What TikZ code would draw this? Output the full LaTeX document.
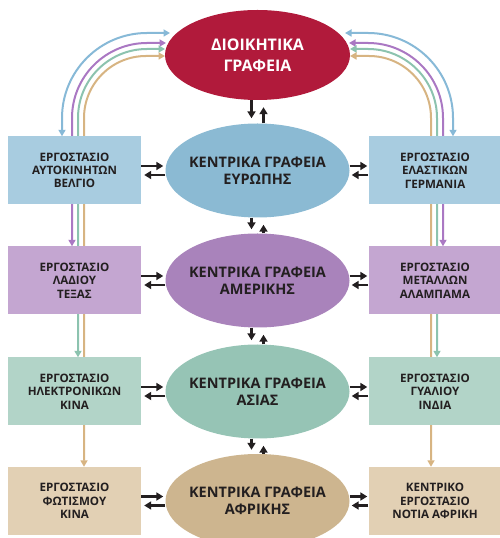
\documentclass[tikz,border=0pt]{standalone}
\usepackage{fontspec}
\setmainfont{Open Sans}
\usetikzlibrary{shapes.geometric,arrows.meta}
\pgfdeclarelayer{background}
\pgfsetlayers{background,main}
\definecolor{hqred}{HTML}{B11A3B}
\definecolor{txt}{HTML}{231F20}
\definecolor{euell}{HTML}{8BBAD3} \definecolor{eubox}{HTML}{A8CCE0}
\definecolor{amell}{HTML}{A983BB} \definecolor{ambox}{HTML}{C4A6D1}
\definecolor{asell}{HTML}{96C4B5} \definecolor{asbox}{HTML}{B2D4C8}
\definecolor{afell}{HTML}{CDB58F} \definecolor{afbox}{HTML}{E2D0B4}
\definecolor{lnblue}{HTML}{87B9D7} \definecolor{lnpurple}{HTML}{AA78C3}
\definecolor{lnteal}{HTML}{8CC3AF} \definecolor{lntan}{HTML}{D7B482}
\tikzset{
  office/.style={ellipse, minimum width=184pt, minimum height=94pt, inner ysep=0pt, inner xsep=-30pt,
    align=center, text=txt, font=\fontsize{14.5}{16.7}\selectfont\bfseries},
  plant/.style={rectangle, minimum width=133pt, minimum height=68pt, inner sep=0pt,
    align=center, text=txt, font=\fontsize{11.6}{13.3}\selectfont\bfseries},
  blk/.style={draw=txt, line width=2.2pt, -{Triangle[length=7pt,width=8pt]}},
  link/.style={line width=2pt, {Triangle[length=6.5pt,width=7pt]}-{Triangle[length=6.5pt,width=7pt]}}
}
\begin{document}
\begin{tikzpicture}[x=1pt,y=1pt]
  \useasboundingbox (0,0) rectangle (499,538);
  % offices
  \node[office, fill=hqred, text=white, minimum width=185pt, minimum height=90pt,
    font=\fontsize{16}{21}\selectfont\bfseries] (hq) at (257.5,483) {ΔΙΟΙΚΗΤΙΚΑ\\ΓΡΑΦΕΙΑ};
  \node[office, fill=euell] (eu) at (257.5,367.5) {ΚΕΝΤΡΙΚΑ ΓΡΑΦΕΙΑ\\ΕΥΡΩΠΗΣ};
  \node[office, fill=amell] (am) at (257.5,257.5) {ΚΕΝΤΡΙΚΑ ΓΡΑΦΕΙΑ\\ΑΜΕΡΙΚΗΣ};
  \node[office, fill=asell] (as) at (257.5,146.5) {ΚΕΝΤΡΙΚΑ ΓΡΑΦΕΙΑ\\ΑΣΙΑΣ};
  \node[office, fill=afell] (af) at (257.5,37) {ΚΕΝΤΡΙΚΑ ΓΡΑΦΕΙΑ\\ΑΦΡΙΚΗΣ};
  % factories
  \node[plant, fill=eubox] (eul) at (74.5,367.5) {ΕΡΓΟΣΤΑΣΙΟ\\ΑΥΤΟΚΙΝΗΤΩΝ\\ΒΕΛΓΙΟ};
  \node[plant, fill=eubox] (eur) at (435,367.5) {ΕΡΓΟΣΤΑΣΙΟ\\ΕΛΑΣΤΙΚΩΝ\\ΓΕΡΜΑΝΙΑ};
  \node[plant, fill=ambox] (aml) at (74.5,257.5) {ΕΡΓΟΣΤΑΣΙΟ\\ΛΑΔΙΟΥ\\ΤΕΞΑΣ};
  \node[plant, fill=ambox] (amr) at (435,257.5) {ΕΡΓΟΣΤΑΣΙΟ\\ΜΕΤΑΛΛΩΝ\\ΑΛΑΜΠΑΜΑ};
  \node[plant, fill=asbox] (asl) at (74.5,146.5) {ΕΡΓΟΣΤΑΣΙΟ\\ΗΛΕΚΤΡΟΝΙΚΩΝ\\ΚΙΝΑ};
  \node[plant, fill=asbox] (asr) at (435,146.5) {ΕΡΓΟΣΤΑΣΙΟ\\ΓΥΑΛΙΟΥ\\ΙΝΔΙΑ};
  \node[plant, fill=afbox] (afl) at (74.5,37) {ΕΡΓΟΣΤΑΣΙΟ\\ΦΩΤΙΣΜΟΥ\\ΚΙΝΑ};
  \node[plant, fill=afbox] (afr) at (435,37) {ΚΕΝΤΡΙΚΟ\\ΕΡΓΟΣΤΑΣΙΟ\\ΝΟΤΙΑ ΑΦΡΙΚΗ};
  % tips of the coloured links at the head office
  \coordinate (hqb1) at (170,505); \coordinate (hqb2) at (345,505);
  \coordinate (hqp1) at (166,495); \coordinate (hqp2) at (349,495);
  \coordinate (hqt1) at (165,489); \coordinate (hqt2) at (350,489);
  \coordinate (hqn1) at (165,482); \coordinate (hqn2) at (350,482);
  % coloured links, behind the factories
  \begin{pgfonlayer}{background}
    \draw[link, lnblue] ([xshift=-12.5pt]eul.north) -- (62,420) arc[start angle=180, end angle=90, radius=85] -- (hqb1);
    \draw[link, lnpurple] ([xshift=-2.5pt]aml.north) -- (72,420) arc[start angle=180, end angle=90, radius=75] -- (hqp1);
    \draw[link, lnteal] ([xshift=3.5pt]asl.north) -- (78,420) arc[start angle=180, end angle=90, radius=69] -- (hqt1);
    \draw[link, lntan] ([xshift=9.5pt]afl.north) -- (84,420) arc[start angle=180, end angle=90, radius=62] -- (hqn1);
    \draw[link, lnblue] ([xshift=18pt]eur.north) -- (453,420) arc[start angle=0, end angle=90, radius=85] -- (hqb2);
    \draw[link, lnpurple] ([xshift=8pt]amr.north) -- (443,420) arc[start angle=0, end angle=90, radius=75] -- (hqp2);
    \draw[link, lnteal] ([xshift=2pt]asr.north) -- (437,420) arc[start angle=0, end angle=90, radius=69] -- (hqt2);
    \draw[link, lntan] ([xshift=-4pt]afr.north) -- (431,420) arc[start angle=0, end angle=90, radius=62] -- (hqn2);
  \end{pgfonlayer}
  % office to office
  \draw[blk, shorten >=5pt] ([xshift=-6pt]hq.south) -- ([xshift=-6pt]eu.north); \draw[blk, shorten >=7pt] ([xshift=6pt]eu.north) -- ([xshift=6pt]hq.south);
  \draw[blk, shorten >=4pt] ([xshift=-6pt]eu.south) -- ([xshift=-6pt]am.north); \draw[blk, shorten >=7pt] ([xshift=6pt]am.north) -- ([xshift=6pt]eu.south);
  \draw[blk, shorten >=4pt] ([xshift=-6pt]am.south) -- ([xshift=-6pt]as.north); \draw[blk, shorten >=7pt] ([xshift=6pt]as.north) -- ([xshift=6pt]am.south);
  \draw[blk, shorten >=4pt] ([xshift=-6pt]as.south) -- ([xshift=-6pt]af.north); \draw[blk, shorten >=7pt] ([xshift=6pt]af.north) -- ([xshift=6pt]as.south);
  % factory to office
  \draw[blk, shorten >=2pt] ([yshift=4.5pt]eul.east) -- ([yshift=4.5pt]eu.west); \draw[blk, shorten >=3pt] ([yshift=-4.5pt]eu.west) -- ([yshift=-4.5pt]eul.east);
  \draw[blk, shorten >=1pt] ([yshift=4.5pt]eu.east) -- ([yshift=4.5pt]eur.west); \draw[blk, shorten >=2pt] ([yshift=-4.5pt]eur.west) -- ([yshift=-4.5pt]eu.east);
  \draw[blk, shorten >=2pt] ([yshift=4.5pt]aml.east) -- ([yshift=4.5pt]am.west); \draw[blk, shorten >=3pt] ([yshift=-4.5pt]am.west) -- ([yshift=-4.5pt]aml.east);
  \draw[blk, shorten >=1pt] ([yshift=4.5pt]am.east) -- ([yshift=4.5pt]amr.west); \draw[blk, shorten >=2pt] ([yshift=-4.5pt]amr.west) -- ([yshift=-4.5pt]am.east);
  \draw[blk, shorten >=2pt] ([yshift=4.5pt]asl.east) -- ([yshift=4.5pt]as.west); \draw[blk, shorten >=3pt] ([yshift=-4.5pt]as.west) -- ([yshift=-4.5pt]asl.east);
  \draw[blk, shorten >=1pt] ([yshift=4.5pt]as.east) -- ([yshift=4.5pt]asr.west); \draw[blk, shorten >=2pt] ([yshift=-4.5pt]asr.west) -- ([yshift=-4.5pt]as.east);
  \draw[blk, shorten >=2pt] ([yshift=4.5pt]afl.east) -- ([yshift=4.5pt]af.west); \draw[blk, shorten >=3pt] ([yshift=-4.5pt]af.west) -- ([yshift=-4.5pt]afl.east);
  \draw[blk, shorten >=1pt] ([yshift=4.5pt]af.east) -- ([yshift=4.5pt]afr.west); \draw[blk, shorten >=2pt] ([yshift=-4.5pt]afr.west) -- ([yshift=-4.5pt]af.east);
\end{tikzpicture}
\end{document}
